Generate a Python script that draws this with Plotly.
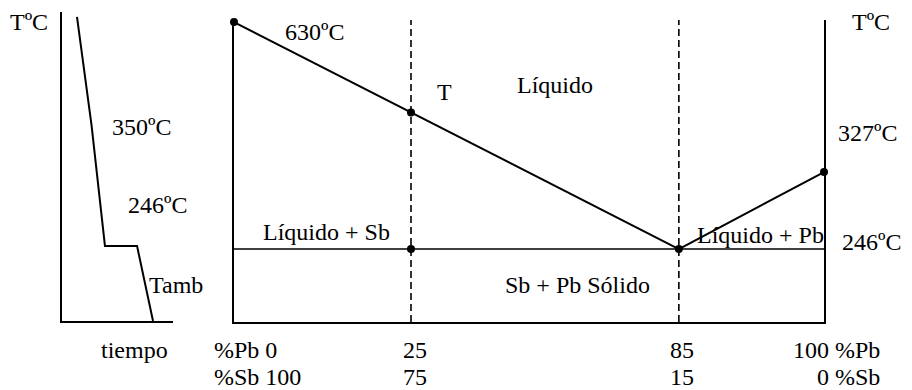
import numpy as np
import plotly.graph_objects as go

# ---------------- data ----------------
# Sb–Pb equilibrium diagram (schematic)
pct_pb = [0, 25, 85, 100]                 # composition ticks, % Pb
pct_sb = [100 - v for v in pct_pb]        # same ticks, % Sb
t_melt_sb = 630                           # °C, pure Sb (0 % Pb)
t_melt_pb = 327                           # °C, pure Pb (100 % Pb)
t_eutectic = 246                          # °C
x_eutectic = 85                           # % Pb at the eutectic point
x_alloy = 25                              # % Pb of the alloy studied
t_room = 25                               # °C, bottom of the diagram (Tamb)

# cooling curve of the 25 % Pb alloy
cool_time = [1.35, 2.66, 3.87, 6.76, 8.2]  # arbitrary time units
cool_temp = [650, 350, 246, 246, 25]       # °C

# ---------------- schematic scales ----------------
# the diagram is not to scale: each tick/level sits at a chosen fraction of the axis
pb_pos = [0.0, 0.30, 0.754, 1.0]
temp_levels = [t_room, t_eutectic, t_melt_pb, t_melt_sb]
temp_pos = [0.0, 0.243, 0.50, 1.0]
cool_levels = [25, 246, 350, 650]
cool_pos = [0.0, 0.243, 0.634, 0.984]


def xp(c):
    return np.interp(c, pct_pb, pb_pos)


def ty(t):
    return np.interp(t, temp_levels, temp_pos)


def cy(t):
    return np.interp(t, cool_levels, cool_pos)


W, H = 912, 390
BLACK = "#000000"
FONT = dict(family="Liberation Serif, Times New Roman, serif", size=24, color=BLACK)

# axis ranges (used for the axes and to place labels relative to them)
X1_RANGE, Y1_RANGE = [0, 10], [0, 1]
X2_RANGE, Y2_RANGE = [0, 1], [0, 1.007]

fig = go.Figure()

# ---- cooling curve (left panel) ----
fig.add_trace(go.Scatter(
    x=cool_time, y=[cy(t) for t in cool_temp], mode="lines",
    line=dict(color=BLACK, width=2), xaxis="x", yaxis="y", hoverinfo="skip"))

# ---- phase diagram (right panel) ----
# liquidus lines
liq_x = [xp(0), xp(x_eutectic), xp(100)]
liq_y = [ty(t_melt_sb), ty(t_eutectic), ty(t_melt_pb)]
fig.add_trace(go.Scatter(
    x=liq_x, y=liq_y, mode="lines", line=dict(color=BLACK, width=2),
    xaxis="x2", yaxis="y2", hoverinfo="skip"))

# eutectic isotherm
fig.add_trace(go.Scatter(
    x=[xp(0), xp(100)], y=[ty(t_eutectic)] * 2, mode="lines",
    line=dict(color=BLACK, width=1.5), xaxis="x2", yaxis="y2", hoverinfo="skip"))

# dashed composition verticals
for c in (x_alloy, x_eutectic):
    fig.add_trace(go.Scatter(
        x=[xp(c)] * 2, y=[ty(t_room), Y2_RANGE[1]], mode="lines",
        line=dict(color=BLACK, width=1.6, dash="7px,4px"),
        xaxis="x2", yaxis="y2", hoverinfo="skip"))

# point T: the alloy meets the liquidus
y_T = np.interp(xp(x_alloy), [xp(0), xp(x_eutectic)], [ty(t_melt_sb), ty(t_eutectic)])

dots_x = [xp(0), xp(x_alloy), xp(x_alloy), xp(x_eutectic), xp(100)]
dots_y = [ty(t_melt_sb), y_T, ty(t_eutectic), ty(t_eutectic), ty(t_melt_pb)]
fig.add_trace(go.Scatter(
    x=dots_x, y=dots_y, mode="markers", marker=dict(color=BLACK, size=8),
    cliponaxis=False, xaxis="x2", yaxis="y2", hoverinfo="skip"))

# ---------------- labels ----------------
ann = []
RANGES = {"": (X1_RANGE, Y1_RANGE), "2": (X2_RANGE, Y2_RANGE)}


def label(text, x, y, ref, xanchor="left"):
    # placed in axis-domain units so labels outside the plotting area stay visible
    xr, yr = RANGES[ref]
    fx = (x - xr[0]) / (xr[1] - xr[0])
    fy = (y - yr[0]) / (yr[1] - yr[0])
    ann.append(dict(text=text, x=fx, y=fy,
                    xref=f"x{ref} domain", yref=f"y{ref} domain",
                    xanchor=xanchor, yanchor="middle", showarrow=False, font=FONT))


# left panel
label("TºC", -1.08, 0.968, "", "right")
label("350ºC", 4.32, 0.628, "")
label("246ºC", 5.77, 0.375, "")
label("Tamb", 7.66, 0.117, "")
label("tiempo", 6.53, -0.094, "", "center")

# right panel
label(f"{t_melt_sb}ºC", 0.083, 0.967, "2")
label("T", 0.341, 0.767, "2")
label("Líquido", 0.476, 0.79, "2")
label("Líquido + Sb", 0.046, 0.30, "2")
label("Sb + Pb Sólido", 0.456, 0.123, "2")
label("Líquido + Pb", 0.781, 0.29, "2")
label(f"{t_melt_pb}ºC", 1.02, 0.63, "2")
label(f"{t_eutectic}ºC", 1.027, 0.267, "2")
label("TºC", 1.044, 1.0, "2")

# composition scale under the diagram
row_pb, row_sb = -0.093, -0.183
for pb, sb, pos in zip(pct_pb, pct_sb, pb_pos):
    if pb == pct_pb[0]:
        label(f"%Pb {pb}", pos - 0.037, row_pb, "2")
        label(f"%Sb {sb}", pos - 0.037, row_sb, "2")
    elif pb == pct_pb[-1]:
        label(f"{pb} %Pb", pos + 0.098, row_pb, "2", "right")
        label(f"{sb} %Sb", pos + 0.098, row_sb, "2", "right")
    else:
        label(f"{pb}", pos + 0.006, row_pb, "2", "center")
        label(f"{sb}", pos + 0.006, row_sb, "2", "center")

axis_common = dict(showgrid=False, zeroline=False, showticklabels=False, ticks="",
                   showline=True, linecolor=BLACK, linewidth=2)

fig.update_layout(
    width=W, height=H, margin=dict(l=0, r=0, t=0, b=0),
    paper_bgcolor="white", plot_bgcolor="white", showlegend=False,
    annotations=ann,
    xaxis=dict(domain=[62 / W, 173 / W], range=X1_RANGE, anchor="y", **axis_common),
    yaxis=dict(domain=[(H - 321) / H, (H - 12) / H], range=Y1_RANGE, anchor="x", **axis_common),
    xaxis2=dict(domain=[234 / W, 824 / W], range=X2_RANGE, anchor="y2", **axis_common),
    yaxis2=dict(domain=[(H - 322) / H, (H - 20) / H], range=Y2_RANGE, anchor="x2",
                mirror=True, **axis_common),
)

fig.write_html("out.html")
